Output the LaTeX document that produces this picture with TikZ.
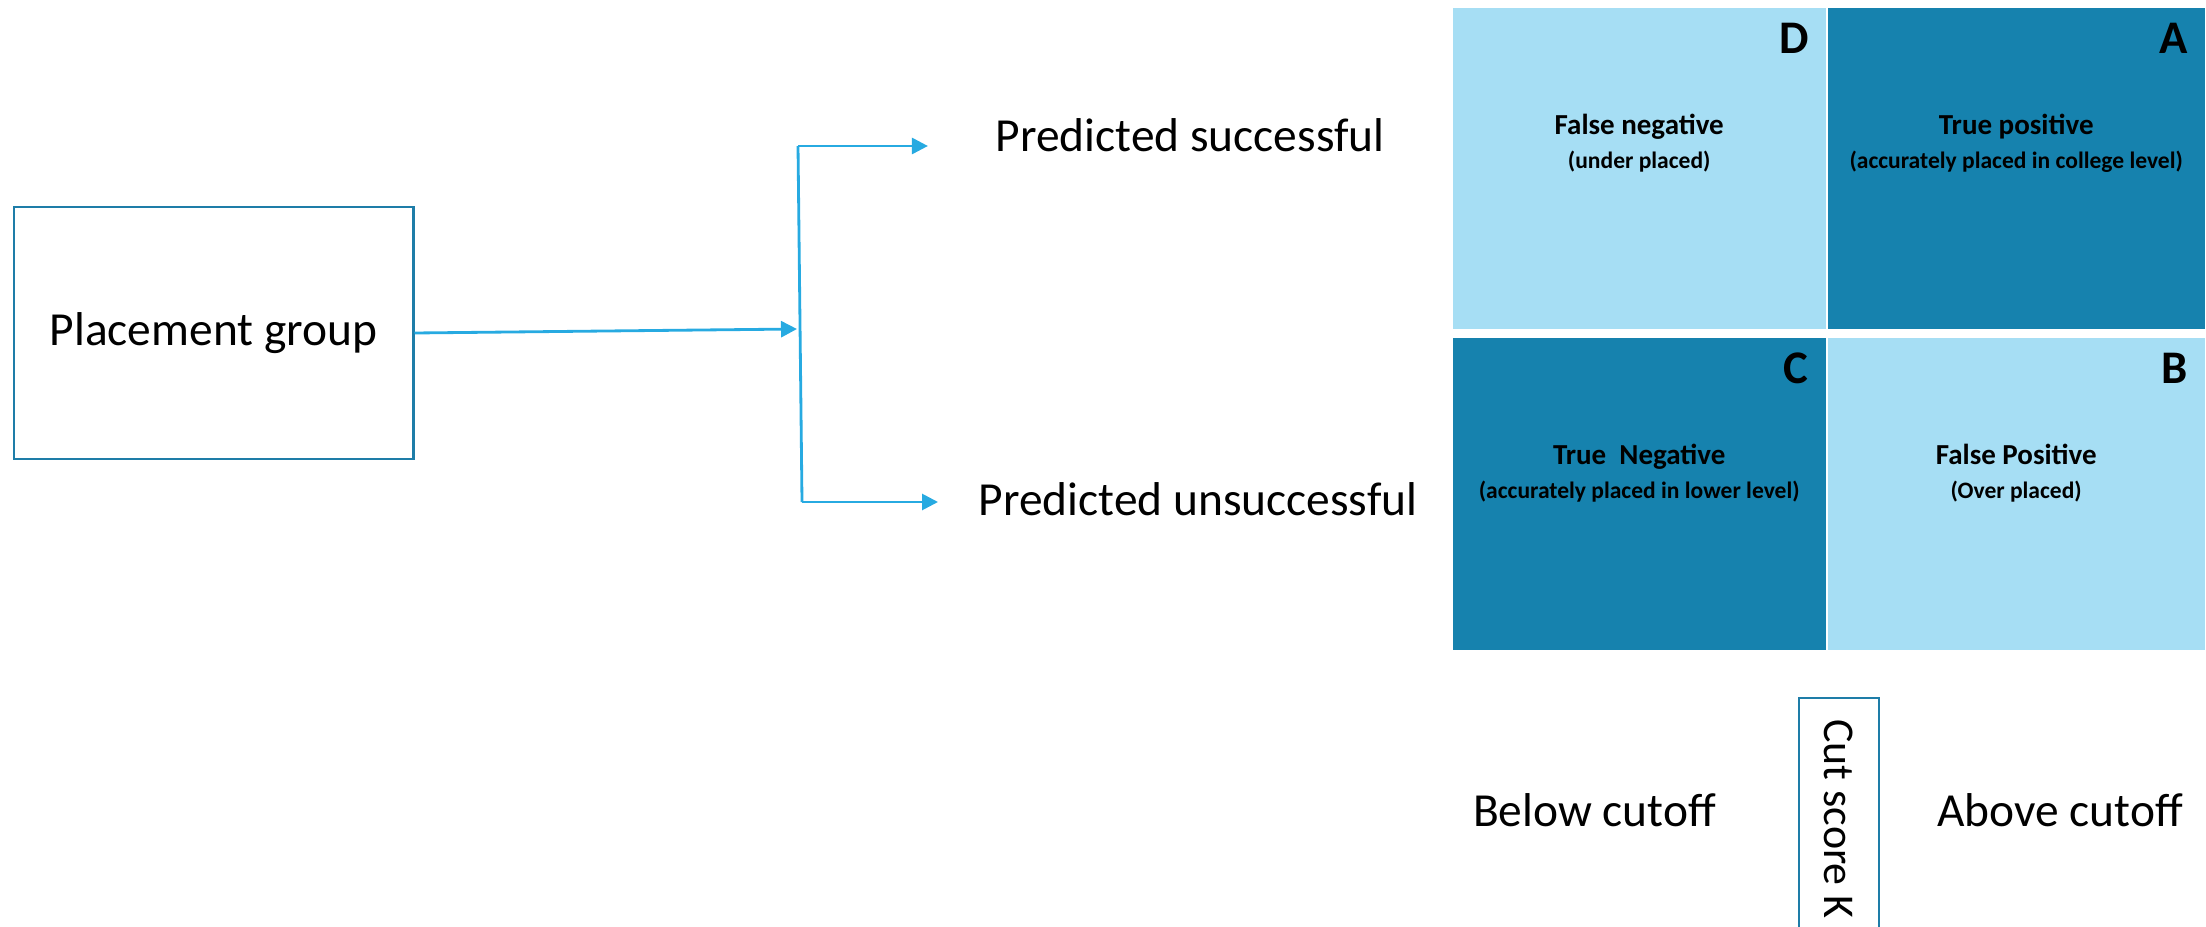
\documentclass[tikz,border=0pt]{standalone}
\usepackage{fontspec}
\setmainfont{Carlito}
\usepackage{tikz}
\usetikzlibrary{arrows.meta, positioning, calc}

\definecolor{lightq}{HTML}{A6DEF4}
\definecolor{darkq}{HTML}{1682AE}
\definecolor{arrowblue}{HTML}{27AAE1}
\definecolor{boxblue}{HTML}{1E7DA8}

\newcommand{\bigtxt}{\fontsize{13.5}{16}\selectfont}
\newcommand{\quadtxt}{\fontsize{8.25}{9.7}\selectfont\bfseries}
\newcommand{\subtxt}{\fontsize{6.7}{9.7}\selectfont}

\tikzset{
  quad/.style={rectangle, inner sep=0pt, anchor=north west},
  qtext/.style={inner sep=0pt, anchor=north, align=center, font=\quadtxt},
  qletter/.style={inner sep=0pt, anchor=north east, font=\fontsize{13.3}{16}\selectfont\bfseries},
  flow/.style={arrowblue, line width=0.8pt, -{Triangle[length=1.6mm, width=1.6mm]}},
  link/.style={arrowblue, line width=0.8pt},
  label/.style={inner sep=0pt, anchor=base, font=\bigtxt},
}

\begin{document}
\begin{tikzpicture}
  \useasboundingbox (0,0) rectangle (22.06,9.26);

  % Left: placement group and the fork
  \node[draw=boxblue, line width=0.85pt, minimum width=3.99cm, minimum height=2.52cm,
        inner sep=0pt, font=\bigtxt] (group) at (2.135,5.93) {Placement group};
  \coordinate (split) at (7.97,5.97);
  \coordinate (ftop) at (7.98,7.80);
  \coordinate (fbot) at (8.02,4.24);
  \draw[flow] (group.east) -- (split);
  \draw[link] (ftop) -- (fbot);

  \node[label] (succ) at (11.90,7.74) {Predicted successful};
  \node[label] (unsucc) at (11.98,4.11) {Predicted unsuccessful};
  \draw[flow, shorten >=0.67cm] (ftop) -- (ftop -| succ.west);
  \draw[flow, shorten >=0.40cm] (fbot) -- (fbot -| unsucc.west);

  % Right: the four quadrants
  \node[quad, fill=lightq, minimum width=3.73cm, minimum height=3.21cm] (qD) at (14.52,9.19) {};
  \node[quad, fill=darkq,  minimum width=3.77cm, minimum height=3.21cm] (qA) at (18.27,9.19) {};
  \node[quad, fill=darkq,  minimum width=3.73cm, minimum height=3.12cm] (qC) at (14.52,5.89) {};
  \node[quad, fill=lightq, minimum width=3.77cm, minimum height=3.12cm] (qB) at (18.27,5.89) {};

  \foreach \q/\l in {qD/D, qA/A, qC/C, qB/B} {
    \node[qletter] at ($(\q.north east)+(-0.17,-0.15)$) {\l};
  }

  \node[qtext] (tD) at ($(qD.north)+(0,-1.06)$) {False negative\\\subtxt(under placed)};
  \node[qtext] (tA) at ($(qA.north)+(0,-1.06)$) {True positive\\\subtxt(accurately placed in college level)};
  \node[qtext] (tC) at ($(qC.north)+(0,-1.06)$) {True\ \ Negative\\\subtxt(accurately placed in lower level)};
  \node[qtext] (tB) at ($(qB.north)+(0,-1.06)$) {False Positive\\\subtxt(Over placed)};

  % Bottom: cut score
  \node[label] (below) at (15.945,1.00) {Below cutoff};
  \node[label] (above) at (20.60,1.00) {Above cutoff};
  \node[draw=boxblue, line width=0.8pt, rotate=-90, minimum width=2.42cm, minimum height=0.8cm,
        inner sep=0pt, font=\fontsize{12.5}{15}\selectfont] (cut) at (18.39,1.07) {Cut score K};
\end{tikzpicture}
\end{document}
